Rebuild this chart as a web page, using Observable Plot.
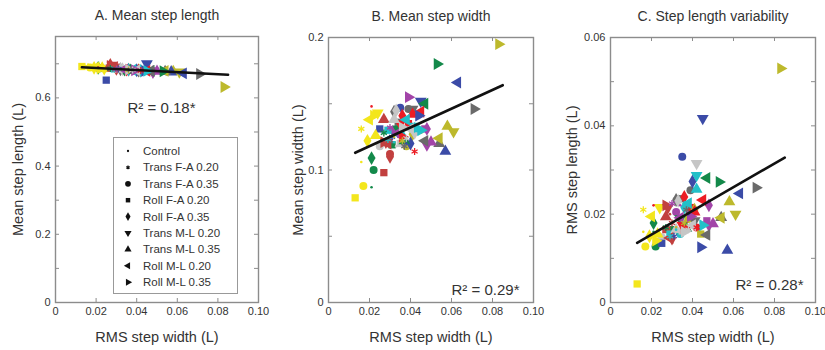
<!DOCTYPE html>
<html><head><meta charset="utf-8">
<script src="https://cdn.jsdelivr.net/npm/d3@7"></script>
<script src="https://cdn.jsdelivr.net/npm/@observablehq/plot@0.6"></script>
<style>
body{margin:0;background:#fff;font-family:"Liberation Sans",Arial,sans-serif;}
#row{display:flex;width:825px;height:350px;}
#row svg{display:block;}
</style></head><body><div id="row"></div>
<script>
// ---- data ----
const conditions = ["Control","Trans F-A 0.20","Trans F-A 0.35","Roll F-A 0.20","Roll F-A 0.35","Trans M-L 0.20","Trans M-L 0.35","Roll M-L 0.20","Roll M-L 0.35"];
const subjectColors = ["#f3e61c","#bdb92c","#13894a","#ec1c24","#c2403f","#3b4ba7","#6a6a6a","#c6c6c6","#22c0c8","#a244a8"];
// per subject (9 conditions each, order as in conditions)
const rmsStepWidth = [
  .016,.016,.017,.013,.019,.024,.023,.020,.022,
  .032,.036,.038,.044,.041,.061,.058,.054,.083,
  .021,.027,.022,.031,.021,.034,.037,.047,.053,
  .021,.042,.042,.039,.036,.035,.041,.045,.036,
  .029,.030,.030,.027,.030,.028,.027,.029,.027,
  .038,.031,.035,.025,.040,.045,.057,.063,.044,
  .031,.037,.039,.034,.032,.041,.054,.047,.071,
  .033,.038,.025,.035,.033,.042,.032,.040,.036,
  .032,.029,.034,.029,.036,.042,.042,.038,.045,
  .034,.030,.032,.047,.048,.048,.050,.034,.039];
const meanStepLength = [
  .690,.691,.689,.692,.688,.686,.687,.689,.687,
  .683,.682,.680,.679,.681,.676,.677,.679,.632,
  .688,.686,.687,.684,.688,.683,.681,.679,.678,
  .689,.680,.681,.682,.683,.683,.680,.679,.683,
  .693,.695,.686,.687,.685,.696,.697,.690,.694,
  .682,.685,.683,.652,.681,.700,.676,.672,.679,
  .685,.682,.681,.683,.684,.680,.677,.679,.670,
  .684,.682,.687,.683,.684,.680,.684,.681,.683,
  .684,.686,.683,.685,.683,.680,.680,.682,.679,
  .683,.685,.684,.679,.676,.679,.678,.683,.681];
const meanStepWidth = [
  .106,.131,.088,.079,.122,.143,.126,.138,.141,
  .125,.122,.118,.130,.127,.129,.133,.124,.195,
  .087,.128,.100,.119,.109,.131,.122,.150,.180,
  .148,.114,.129,.135,.141,.135,.142,.144,.125,
  .124,.122,.112,.098,.110,.121,.138,.120,.121,
  .120,.125,.147,.131,.120,.152,.114,.166,.141,
  .121,.118,.146,.136,.144,.146,.120,.122,.146,
  .118,.124,.118,.120,.145,.128,.138,.131,.132,
  .121,.123,.128,.130,.126,.133,.131,.138,.130,
  .125,.132,.130,.131,.131,.119,.121,.128,.155];
const rmsStepLength = [
  .0160,.0210,.0127,.0042,.0150,.0215,.0155,.0195,.0140,
  .0170,.0180,.0189,.0155,.0210,.0200,.0228,.0192,.0530,
  .0160,.0170,.0127,.0165,.0180,.0190,.0168,.0282,.0273,
  .0220,.0170,.0170,.0215,.0239,.0175,.0205,.0232,.0168,
  .0200,.0180,.0165,.0165,.0145,.0215,.0194,.0146,.0220,
  .0200,.0150,.0330,.0134,.0274,.0417,.0118,.0247,.0125,
  .0235,.0210,.0254,.0235,.0232,.0185,.0192,.0153,.0260,
  .0160,.0165,.0148,.0162,.0230,.0315,.0165,.0175,.0160,
  .0165,.0150,.0155,.0155,.0215,.0288,.0256,.0225,.0175,
  .0220,.0224,.0205,.0185,.0220,.0175,.0178,.0192,.0195];
// regression line end points [x, y]
const fitA = [[0.013,0.690],[0.085,0.668]];
const fitB = [[0.013,0.113],[0.085,0.164]];
const fitC = [[0.013,0.0135],[0.085,0.0328]];
const r2Labels = ["R² = 0.18*","R² = 0.29*","R² = 0.28*"];
const xTicks = [0,0.02,0.04,0.06,0.08,0.10];

// ---- symbols ----
function tri(angle){
  return {draw(ctx,size){
    const a=Math.sqrt(size*4/Math.sqrt(3)), h=a*Math.sqrt(3)/2, c=Math.cos(angle), s=Math.sin(angle);
    const p=[[0,-2*h/3],[a/2,h/3],[-a/2,h/3]].map(([x,y])=>[x*c-y*s,x*s+y*c]);
    ctx.moveTo(p[0][0],p[0][1]);ctx.lineTo(p[1][0],p[1][1]);ctx.lineTo(p[2][0],p[2][1]);ctx.closePath();
  }};
}
const condSymbols = [d3.symbolCircle, d3.symbolAsterisk, d3.symbolCircle, d3.symbolSquare, d3.symbolDiamond, tri(Math.PI), tri(0), tri(-Math.PI/2), tri(Math.PI/2)];
const condR = [1.3, 3.3, 4, 4.1, 4.2, 4.4, 4.4, 4.4, 4.4];
const drawOrder = [2,3,4,5,6,7,8,1,0];

const points = rmsStepWidth.map((x,i)=>({x, a:meanStepLength[i], b:meanStepWidth[i], c:rmsStepLength[i], color:subjectColors[Math.floor(i/9)], cond:i%9}));

const axisGray = "#8c8c8c";
function makePanel(o){
  const mb = 48, H = 350, W = 275;
  const fh = H - o.mt - mb, fw = W - o.ml - o.mr;
  const dots = drawOrder.map(k => {
    const data = points.filter(p=>p.cond===k);
    if (k===1) return Plot.dot(data,{x:"x",y:o.key,stroke:"color",symbol:condSymbols[k],r:condR[k],strokeWidth:1.3});
    return Plot.dot(data,{x:"x",y:o.key,fill:"color",symbol:condSymbols[k],r:condR[k]});
  });
  const svg = Plot.plot({
    width: W, height: H, marginLeft: o.ml, marginRight: o.mr, marginTop: o.mt, marginBottom: mb,
    x: {domain:[0,0.1]}, y: {domain:o.yDomain}, color: {type:"identity"},
    style: {fontFamily:'"Liberation Sans", Arial, sans-serif', fontSize:"11px", color:"#333", background:"white"},
    marks: [
      Plot.ruleX(xTicks,{x:d=>d, insetTop:fh-4, stroke:axisGray}),
      Plot.ruleX(xTicks,{x:d=>d, insetBottom:fh-4, stroke:axisGray}),
      Plot.ruleY(o.yTicks,{y:d=>d, insetRight:fw-4, stroke:axisGray}),
      Plot.ruleY(o.yTicks,{y:d=>d, insetLeft:fw-4, stroke:axisGray}),
      Plot.frame({stroke:axisGray, strokeWidth:1.4}),
      Plot.axisX({ticks:xTicks, tickSize:0, tickPadding:5, tickFormat:d=>d===0?"0":d.toFixed(2), label:null}),
      Plot.axisY({ticks:o.yLabels, tickSize:0, tickPadding:5, tickFormat:o.fmt, label:null}),
      ...dots,
      Plot.line(o.fit,{stroke:"#111", strokeWidth:2.6}),
      Plot.text([o.title],{text:d=>d, frameAnchor:"top", dy:-21, textAnchor:"middle", lineAnchor:"middle", fontSize:14, fill:"#333"}),
      Plot.text(["RMS step width (L)"],{text:d=>d, frameAnchor:"bottom", dy:35, textAnchor:"middle", lineAnchor:"middle", fontSize:14.5, fill:"#333"}),
      Plot.text([o.ylabel],{text:d=>d, frameAnchor:"left", dx:o.ylx, rotate:-90, textAnchor:"middle", lineAnchor:"middle", fontSize:14.5, fill:"#333"}),
      Plot.text([o.r2],{text:d=>d, frameAnchor:o.r2anchor, dx:o.r2dx, dy:o.r2dy, textAnchor:"middle", lineAnchor:"middle", fontSize:15, fill:"#333"})
    ]
  });
  return svg;
}

const panelA = makePanel({key:"a", yDomain:[0,0.78], yTicks:[0,0.1,0.2,0.3,0.4,0.5,0.6,0.7], yLabels:[0,0.2,0.4,0.6], fmt:d=>d===0?"0":d.toFixed(1),
  fit:fitA, title:"A. Mean step length", ylabel:"Mean step length (L)", ylx:-37, r2:r2Labels[0], r2anchor:"top-left", r2dx:106, r2dy:72, ml:55, mr:17, mt:36});
const panelB = makePanel({key:"b", yDomain:[0,0.2], yTicks:[0,0.05,0.1,0.15,0.2], yLabels:[0,0.1,0.2], fmt:d=>d===0?"0":d.toFixed(1),
  fit:fitB, title:"B. Mean step width", ylabel:"Mean step widtth (L)", ylx:-30, r2:r2Labels[1], r2anchor:"bottom-right", r2dx:-48, r2dy:-12, ml:53, mr:17, mt:37});
const panelC = makePanel({key:"c", yDomain:[0,0.06], yTicks:[0,0.01,0.02,0.03,0.04,0.05,0.06], yLabels:[0,0.02,0.04,0.06], fmt:d=>d===0?"0":d.toFixed(2),
  fit:fitC, title:"C. Step length variability", ylabel:"RMS step length (L)", ylx:-38, r2:r2Labels[2], r2anchor:"bottom-right", r2dx:-46, r2dy:-17, ml:60, mr:10, mt:37});

// legend (panel A)
const g = d3.select(panelA).append("g").attr("text-anchor","start");
g.append("rect").attr("x",113.5).attr("y",137.5).attr("width",124).attr("height",156).attr("fill","white").attr("stroke","#999").attr("stroke-width",1);
const legSize = [4, 10, 26, 20, 22, 22, 22, 22, 22];
conditions.forEach((c,i)=>{
  const y = 151 + i*16.4;
  const p = g.append("path").attr("transform",`translate(128,${y})`).attr("d", d3.symbol(condSymbols[i], legSize[i])());
  if (i===1) p.attr("fill","none").attr("stroke","#111").attr("stroke-width",1.2); else p.attr("fill","#111");
  g.append("text").attr("x",143).attr("y",y).attr("dy","0.35em").attr("text-anchor","start").attr("font-size","11.5px").attr("fill","#333").text(c);
});

const row = document.getElementById("row");
row.append(panelA, panelB, panelC);
</script></body></html>
